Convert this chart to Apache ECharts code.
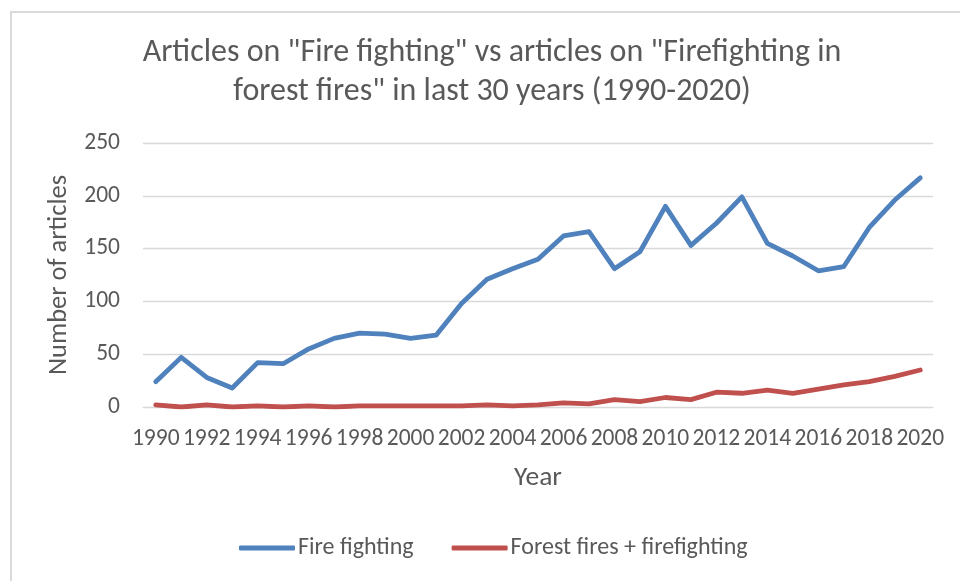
<!DOCTYPE html>
<html>
<head>
<meta charset="utf-8">
<title>Fire fighting articles</title>
<script src="https://cdn.jsdelivr.net/npm/echarts@6/dist/echarts.min.js"></script>
<style>
  html, body { margin: 0; padding: 0; background: #fff; }
  #chart { width: 960px; height: 581px; }
</style>
</head>
<body>
<div id="chart"></div>
<script>
// values
const years = [];
for (let y = 1990; y <= 2020; y++) years.push(String(y));

const fireFighting = [24, 47, 28, 18, 42, 41, 55, 65, 70, 69, 65, 68, 98, 121, 131, 140,
  162, 166, 131, 147, 190, 153, 174, 199, 155, 143, 129, 133, 170, 196, 217];

const forestFires = [2, 0, 2, 0, 1, 0, 1, 0, 1, 1, 1, 1, 1, 2, 1, 2,
  4, 3, 7, 5, 9, 7, 14, 13, 16, 13, 17, 21, 24, 29, 35];

const yTicks = { min: 0, max: 250, step: 50 };

const font = 'Carlito, "Liberation Sans Narrow", "Liberation Sans", sans-serif';
const textColor = '#595959';
const gridColor = '#d9d9d9';

let myChart = echarts.init(document.getElementById('chart'));
myChart.setOption({
  animation: false,
  backgroundColor: '#fff',
  graphic: [
    {
      type: 'rect',
      shape: { x: 11, y: 12, width: 1000, height: 1000 },
      style: { fill: 'none', stroke: gridColor, lineWidth: 2 },
      silent: true
    }
  ],
  title: {
    text: 'Articles on "Fire fighting" vs articles on "Firefighting in\nforest fires" in last 30 years (1990-2020)',
    left: 492,
    top: 33,
    padding: 0,
    textAlign: 'center',
    textStyle: {
      fontFamily: font,
      fontSize: 32,
      lineHeight: 39,
      fontWeight: 'normal',
      color: textColor
    }
  },
  legend: {
    left: 239,
    top: 536,
    padding: 0,
    icon: 'roundRect',
    itemWidth: 56,
    itemHeight: 5,
    itemGap: 38,
    textStyle: { fontFamily: font, fontSize: 24, color: textColor, padding: [0, 0, 0, -2] },
    data: ['Fire fighting', 'Forest fires + firefighting']
  },
  grid: {
    left: 143,
    right: 27,
    top: 143,
    bottom: 174,
    containLabel: false
  },
  xAxis: {
    type: 'category',
    data: years,
    boundaryGap: true,
    name: 'Year',
    nameLocation: 'middle',
    nameGap: 57,
    nameTextStyle: { fontFamily: font, fontSize: 27.5, color: textColor },
    axisLine: { lineStyle: { color: gridColor, width: 1 } },
    axisTick: { show: false },
    axisLabel: {
      interval: 1,
      margin: 20,
      fontFamily: font,
      fontSize: 23.5,
      color: textColor
    }
  },
  yAxis: {
    type: 'value',
    min: yTicks.min,
    max: yTicks.max,
    interval: yTicks.step,
    name: 'Number of articles',
    nameLocation: 'middle',
    nameGap: 64,
    nameTextStyle: { fontFamily: font, fontSize: 26.5, color: textColor },
    axisLine: { show: false },
    axisTick: { show: false },
    axisLabel: {
      margin: 23,
      fontFamily: font,
      fontSize: 23.5,
      color: textColor
    },
    splitLine: { lineStyle: { color: gridColor, width: 1.3 } }
  },
  series: [
    {
      name: 'Fire fighting',
      type: 'line',
      data: fireFighting,
      symbol: 'none',
      color: '#4f81bd',
      lineStyle: { width: 4.8, cap: 'round', join: 'round' }
    },
    {
      name: 'Forest fires + firefighting',
      type: 'line',
      data: forestFires,
      symbol: 'none',
      color: '#c0504d',
      lineStyle: { width: 4.8, cap: 'round', join: 'round' }
    }
  ]
});
</script>
</body>
</html>
